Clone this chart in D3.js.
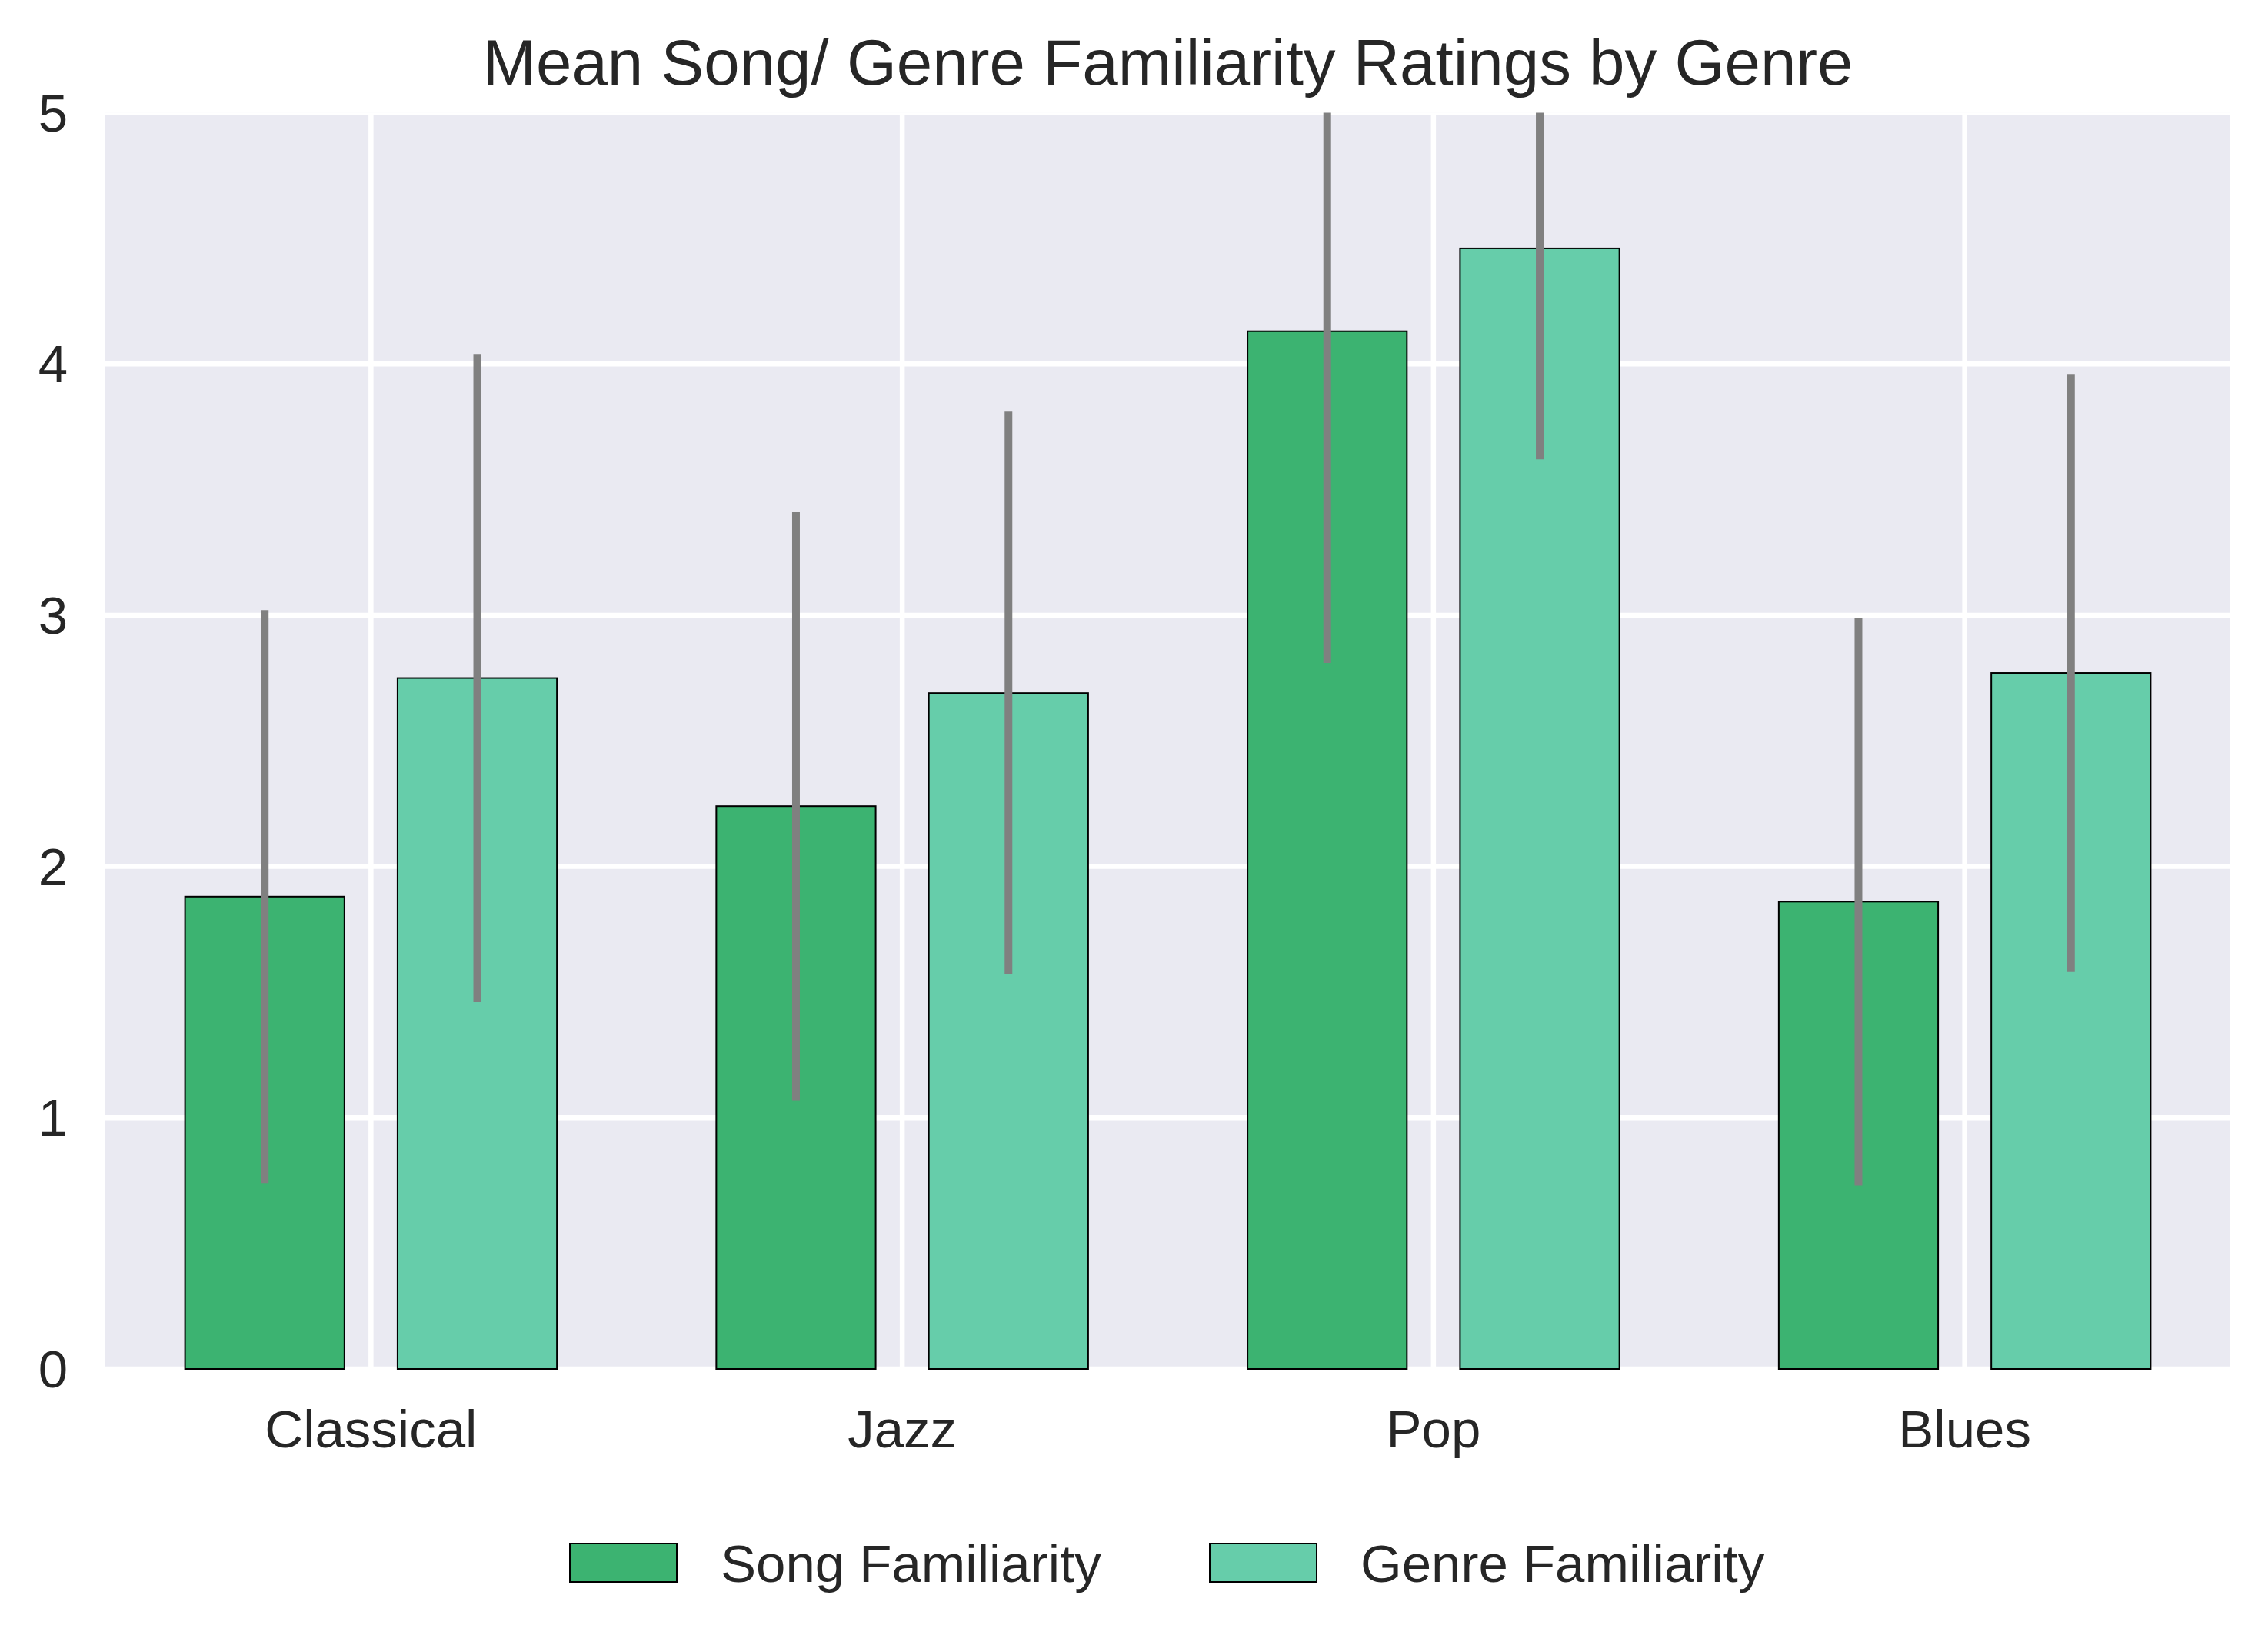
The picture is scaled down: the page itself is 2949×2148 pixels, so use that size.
<!DOCTYPE html>
<html>
<head>
<meta charset="utf-8">
<script src="https://cdn.jsdelivr.net/npm/d3@7/dist/d3.min.js"></script>
<style>
  html, body { margin: 0; padding: 0; background: #ffffff; }
  svg { display: block; }
  text { font-family: "Liberation Sans", Arial, sans-serif; fill: #262626; }
</style>
</head>
<body>
<svg id="chart" width="2949" height="2148"></svg>
<script>
const categories = ["Classical", "Jazz", "Pop", "Blues"];
const songMeans = [1.88, 2.24, 4.13, 1.86];
const songSD = [1.14, 1.17, 1.32, 1.13];
const genreMeans = [2.75, 2.69, 4.46, 2.77];
const genreSD = [1.29, 1.12, 0.84, 1.19];
const yTicks = [0, 1, 2, 3, 4, 5];
const seriesNames = ["Song Familiarity", "Genre Familiarity"];
const seriesColors = ["#3cb371", "#66cdaa"];

const axLeft = 137, axRight = 2900, axTop = 146.5, axBottom = 1780;

const svg = d3.select("#chart");

const x = d3.scaleLinear().domain([-0.5, categories.length - 0.5]).range([axLeft, axRight]);
const y = d3.scaleLinear().domain([0, 5]).range([axBottom, axTop]);

const barW = 0.3, offset = 0.2;

const defs = svg.append("defs");
defs.append("clipPath").attr("id", "axclip")
  .append("rect").attr("x", axLeft).attr("y", axTop).attr("width", axRight - axLeft).attr("height", axBottom - axTop);

const plot = svg.append("g").attr("clip-path", "url(#axclip)");

plot.append("rect").attr("x", axLeft).attr("y", axTop).attr("width", axRight - axLeft).attr("height", axBottom - axTop)
  .attr("fill", "#EAEAF2");

// grid
plot.selectAll("line.hgrid").data(yTicks).enter().append("line")
  .attr("class", "hgrid")
  .attr("x1", axLeft).attr("x2", axRight)
  .attr("y1", d => y(d)).attr("y2", d => y(d))
  .attr("stroke", "#ffffff").attr("stroke-width", 6.5);
plot.selectAll("line.vgrid").data(categories.map((c, i) => i)).enter().append("line")
  .attr("class", "vgrid")
  .attr("y1", axTop).attr("y2", axBottom)
  .attr("x1", d => x(d)).attr("x2", d => x(d))
  .attr("stroke", "#ffffff").attr("stroke-width", 6.5);

const series = [
  { means: songMeans, sd: songSD, off: -offset, color: seriesColors[0] },
  { means: genreMeans, sd: genreSD, off: offset, color: seriesColors[1] }
];

series.forEach(s => {
  const g = svg.append("g");
  g.selectAll("rect").data(s.means).enter().append("rect")
    .attr("x", (d, i) => x(i + s.off - barW / 2))
    .attr("width", x(barW) - x(0))
    .attr("y", d => y(d))
    .attr("height", d => y(0) - y(d))
    .attr("fill", s.color)
    .attr("stroke", "#000000").attr("stroke-width", 2);
});

const eg = svg.append("g").attr("clip-path", "url(#axclip)");
series.forEach(s => {
  eg.selectAll(null).data(s.means).enter().append("line")
    .attr("x1", (d, i) => x(i + s.off)).attr("x2", (d, i) => x(i + s.off))
    .attr("y1", (d, i) => y(d - s.sd[i])).attr("y2", (d, i) => y(d + s.sd[i]))
    .attr("stroke", "#808080").attr("stroke-width", 10);
});

// y tick labels
svg.selectAll("text.ytick").data(yTicks).enter().append("text")
  .attr("class", "ytick")
  .attr("x", 88).attr("y", d => y(d)).attr("dy", "0.35em")
  .attr("text-anchor", "end").attr("font-size", 69)
  .text(d => d);

// x tick labels
svg.selectAll("text.xtick").data(categories).enter().append("text")
  .attr("class", "xtick")
  .attr("x", (d, i) => x(i)).attr("y", 1882)
  .attr("text-anchor", "middle").attr("font-size", 69)
  .text(d => d);

// title
svg.append("text").attr("x", (axLeft + axRight) / 2).attr("y", 110)
  .attr("text-anchor", "middle").attr("font-size", 83.5)
  .text("Mean Song/ Genre Familiarity Ratings by Genre");

// legend
const legendX = [741, 1573];
seriesNames.forEach((name, i) => {
  svg.append("rect").attr("x", legendX[i]).attr("y", 2007).attr("width", 139).attr("height", 50)
    .attr("fill", seriesColors[i]).attr("stroke", "#000000").attr("stroke-width", 2);
  svg.append("text").attr("x", legendX[i] + 196).attr("y", 2057)
    .attr("font-size", 69).text(name);
});
</script>
</body>
</html>
